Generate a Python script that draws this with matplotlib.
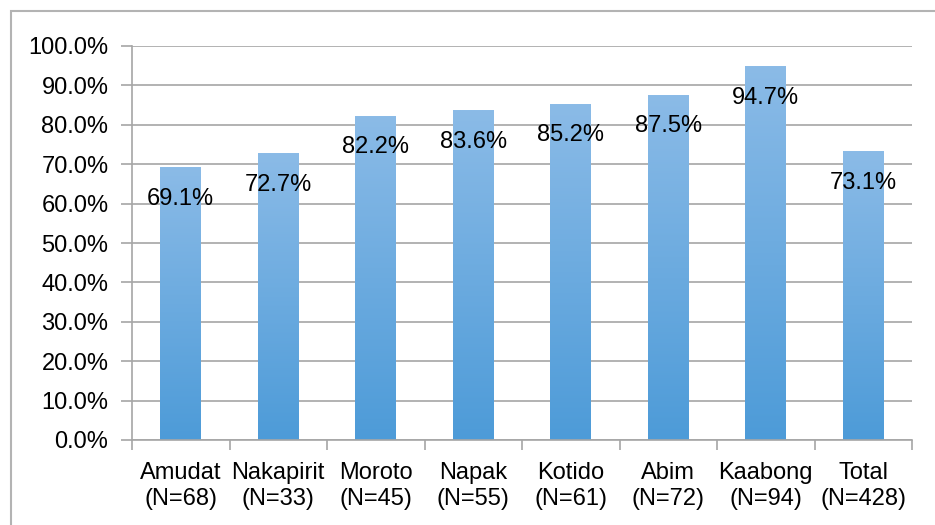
import matplotlib.pyplot as plt
import numpy as np
from matplotlib.colors import LinearSegmentedColormap
from matplotlib.patches import Rectangle

plt.rcParams['font.family'] = ['Liberation Sans', 'DejaVu Sans']

districts = ['Amudat', 'Nakapirit', 'Moroto', 'Napak', 'Kotido', 'Abim', 'Kaabong', 'Total']
counts = [68, 33, 45, 55, 61, 72, 94, 428]
values = [69.1, 72.7, 82.2, 83.6, 85.2, 87.5, 94.7, 73.1]

fig = plt.figure(figsize=(9.35, 5.25), dpi=100)
# outer chart border
fig.patches.append(Rectangle((11 / 935, -0.1), 1.2, 1 - 11 / 525 + 0.1, transform=fig.transFigure,
                             fill=False, edgecolor='#b3b3b3', linewidth=1.5))
ax = fig.add_axes([132 / 935, 1 - 440 / 525, 780 / 935, 394 / 525])

cmap = LinearSegmentedColormap.from_list('bar', ['#4d9bd8', '#8bbbe7'])
grad = np.linspace(0, 1, 256).reshape(-1, 1)
width = 0.42
x = np.arange(len(districts))
for xi, v in zip(x, values):
    ax.imshow(grad, cmap=cmap, origin='lower', aspect='auto',
              extent=[xi - width / 2, xi + width / 2, 0, v], zorder=2)
    ax.annotate(f'{v:.1f}%', (xi, v), xytext=(0, -31), textcoords='offset pixels',
                ha='center', va='center', fontsize=17, color='black', zorder=3)

ax.set_xlim(-0.5, len(districts) - 0.5)
ax.set_ylim(0, 100)
ax.set_yticks(np.arange(0, 101, 10))
ax.set_yticklabels([f'{t:.1f}%' for t in range(0, 101, 10)], fontsize=17)
ax.yaxis.grid(True, color='#a6a6a6', linewidth=1.2, zorder=0)
ax.set_axisbelow(True)

ax.set_xticks(np.arange(-0.5, len(districts), 1))
ax.set_xticklabels([])
ax.set_xticks(x, minor=True)
ax.set_xticklabels([f'{d}\n(N={n})' for d, n in zip(districts, counts)], minor=True, fontsize=17,
                   linespacing=1.25)
ax.tick_params(axis='x', which='minor', length=0, pad=16)
ax.tick_params(axis='x', which='major', length=7, color='#a6a6a6', width=1.2)
ax.tick_params(axis='y', length=8, color='#a6a6a6', width=1.2, pad=9)

for s in ['top', 'right']:
    ax.spines[s].set_visible(False)
for s in ['left', 'bottom']:
    ax.spines[s].set_color('#a6a6a6')
    ax.spines[s].set_linewidth(1.2)

fig.savefig('out.png', dpi=100)
